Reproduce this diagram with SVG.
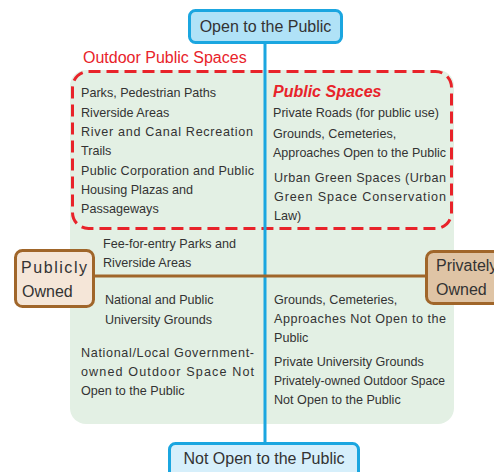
<svg xmlns="http://www.w3.org/2000/svg" width="494" height="472" viewBox="0 0 494 472">
<style>
text{font-family:"Liberation Sans",Arial,sans-serif;fill:#333}
.b{font-size:12.6px}
.h{font-size:16px}
.red{fill:#e8232a}
</style>
<rect width="494" height="472" fill="#fff"/>
<g id="background">
<rect x="70" y="70" width="384" height="354" rx="16" fill="#e3f0e4"/>
</g>
<g id="outdoor-public-spaces">
<rect x="72.5" y="71.5" width="379" height="157" rx="16" fill="none" stroke="#e8232a" stroke-width="3" stroke-dasharray="12 6"/>
<text class="h red" x="83" y="63">Outdoor Public Spaces</text>
</g>
<g id="connectors">
<line x1="265" y1="43" x2="265" y2="443" stroke="#1ba6e0" stroke-width="3"/>
<line x1="94" y1="276" x2="426" y2="276" stroke="#a0662a" stroke-width="3"/>
</g>
<g id="open">
<rect x="189.5" y="10.5" width="152" height="32" rx="6" fill="#b0e2f7" stroke="#1ba6e0" stroke-width="3"/>
<text class="h" x="265.5" y="31.5" text-anchor="middle">Open to the Public</text>
</g>
<g id="not-open">
<rect x="169.5" y="443.5" width="189" height="34" rx="6" fill="#d6effb" stroke="#1ba6e0" stroke-width="3"/>
<text class="h" x="264" y="463.5" text-anchor="middle">Not Open to the Public</text>
</g>
<g id="publicly-owned">
<rect x="15.5" y="250.5" width="78" height="56" rx="7" fill="#f5e6d8" stroke="#a0662a" stroke-width="3"/>
<text class="h" x="21" y="273" textLength="66" lengthAdjust="spacing">Publicly</text>
<text class="h" x="22" y="297">Owned</text>
</g>
<g id="privately-owned">
<rect x="426.5" y="251.5" width="80" height="52" rx="7" fill="#dfc4a5" stroke="#a0662a" stroke-width="3"/>
<text class="h" x="436" y="271">Privately</text>
<text class="h" x="436" y="295">Owned</text>
</g>
<g id="q-top-left">
<text class="b" x="81" y="97">Parks, Pedestrian Paths</text>
<text class="b" x="81" y="117">Riverside Areas</text>
<text class="b" x="81" y="136" textLength="172" lengthAdjust="spacing">River and Canal Recreation</text>
<text class="b" x="81" y="155">Trails</text>
<text class="b" x="81" y="175" textLength="173" lengthAdjust="spacing">Public Corporation and Public</text>
<text class="b" x="81" y="194">Housing Plazas and</text>
<text class="b" x="81" y="213">Passageways</text>
</g>
<g id="q-top-right">
<text class="h red" x="273" y="97" font-weight="bold" font-style="italic">Public Spaces</text>
<text class="b" x="273" y="117">Private Roads (for public use)</text>
<text class="b" x="273" y="138">Grounds, Cemeteries,</text>
<text class="b" x="273" y="157" textLength="173" lengthAdjust="spacingAndGlyphs">Approaches Open to the Public</text>
<text class="b" x="274" y="182" textLength="172" lengthAdjust="spacing">Urban Green Spaces (Urban</text>
<text class="b" x="274" y="201" textLength="172" lengthAdjust="spacing">Green Space Conservation</text>
<text class="b" x="274" y="220">Law)</text>
</g>
<g id="q-middle-left">
<text class="b" x="103" y="248">Fee-for-entry Parks and</text>
<text class="b" x="103" y="267">Riverside Areas</text>
</g>
<g id="q-bottom-left">
<text class="b" x="105" y="304">National and Public</text>
<text class="b" x="105" y="324">University Grounds</text>
<text class="b" x="81" y="357" textLength="173" lengthAdjust="spacing">National/Local Government-</text>
<text class="b" x="81" y="376" textLength="173" lengthAdjust="spacing">owned Outdoor Space Not</text>
<text class="b" x="81" y="395">Open to the Public</text>
</g>
<g id="q-bottom-right">
<text class="b" x="274" y="304">Grounds, Cemeteries,</text>
<text class="b" x="274" y="323" textLength="172" lengthAdjust="spacing">Approaches Not Open to the</text>
<text class="b" x="274" y="342">Public</text>
<text class="b" x="274" y="366">Private University Grounds</text>
<text class="b" x="274" y="385" textLength="171" lengthAdjust="spacingAndGlyphs">Privately-owned Outdoor Space</text>
<text class="b" x="274" y="404">Not Open to the Public</text>
</g>
</svg>
